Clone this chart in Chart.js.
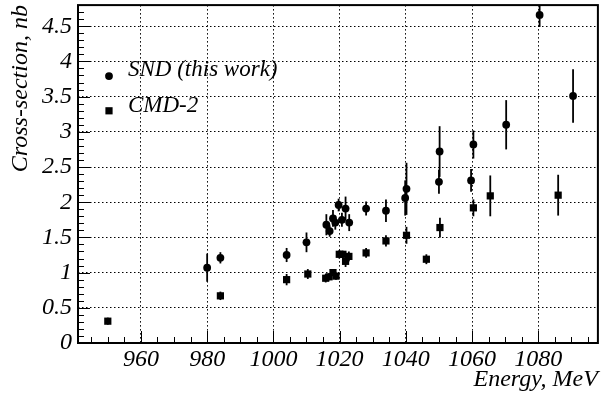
<!DOCTYPE html>
<html>
<head>
<meta charset="utf-8">
<title>Cross-section vs energy</title>
<script src="https://cdn.jsdelivr.net/npm/chart.js@4.4.1/dist/chart.umd.min.js"></script>
<style>
    html, body { margin: 0; padding: 0; background: #fff; }
    .chart-wrap { width: 603px; height: 398px; }
</style>
</head>
<body>
<div class="chart-wrap"><canvas id="xsecChart"></canvas></div>
<script>
// --- DATA ---
const sndEnergy = [980, 984, 1004, 1010, 1016, 1017, 1018, 1018.7, 1019.7, 1020.7, 1021.8, 1022.9,
    1028, 1034, 1039.8, 1040.2, 1050, 1050.2, 1059.7, 1060.4, 1070.3, 1080.4, 1090.5];
const sndSigma = [1.07, 1.21, 1.25, 1.43, 1.68, 1.59, 1.77, 1.71, 1.96, 1.75, 1.91, 1.71,
    1.91, 1.88, 2.06, 2.19, 2.29, 2.72, 2.31, 2.82, 3.10, 4.66, 3.51];
const sndError = [0.2, 0.08, 0.1, 0.14, 0.15, 0.08, 0.12, 0.1, 0.09, 0.1, 0.17, 0.12,
    0.1, 0.16, 0.25, 0.37, 0.17, 0.36, 0.16, 0.2, 0.35, 0.17, 0.38];

const cmdEnergy = [950, 984, 1004, 1010.4, 1015.8, 1016.8, 1018, 1018.9, 1019.9, 1021, 1021.8, 1022.8,
    1028, 1034, 1040.2, 1046.2, 1050.3, 1060.4, 1065.5, 1086];
const cmdSigma = [0.31, 0.67, 0.90, 0.98, 0.92, 0.94, 1.00, 0.95, 1.26, 1.26, 1.16, 1.23,
    1.28, 1.45, 1.53, 1.19, 1.64, 1.92, 2.09, 2.10];
const cmdError = [0.05, 0.06, 0.08, 0.07, 0.06, 0.05, 0.05, 0.05, 0.06, 0.05, 0.08, 0.07,
    0.07, 0.08, 0.12, 0.07, 0.14, 0.12, 0.29, 0.29];

const xTicks = [960, 980, 1000, 1020, 1040, 1060, 1080];
const yTicks = [0, 0.5, 1, 1.5, 2, 2.5, 3, 3.5, 4, 4.5];
const xMinorStep = 5;
const yMinorStep = 0.1;

const FAMILY = '"Liberation Serif", "Times New Roman", serif';
const italic = (size) => ({ family: FAMILY, size, style: 'italic', lineHeight: 1.2 });

const toPoints = (xs, ys) => xs.map((x, i) => ({ x, y: ys[i] }));

// no automatic label padding, the frame is placed by hand
const noPad = (s) => {
    s.paddingTop = 0;
    s.paddingBottom = 0;
    s.paddingLeft = 0;
    s.paddingRight = 0;
};

// --- ERROR BARS ---
const errorBars = {
    id: 'errorBars',
    beforeDatasetsDraw(chart) {
        const { ctx, chartArea: a, scales: { x, y } } = chart;
        ctx.save();
        ctx.beginPath();
        ctx.rect(a.left, a.top, a.right - a.left, a.bottom - a.top);
        ctx.clip();
        ctx.strokeStyle = '#000';
        ctx.lineWidth = 1.8;
        chart.data.datasets.forEach(ds => {
            ds.data.forEach((p, i) => {
                const px = x.getPixelForValue(p.x);
                ctx.beginPath();
                ctx.moveTo(px, y.getPixelForValue(p.y - ds.errors[i]));
                ctx.lineTo(px, y.getPixelForValue(p.y + ds.errors[i]));
                ctx.stroke();
            });
        });
        ctx.restore();
    }
};

// --- FRAME, INNER TICKS, LEGEND ---
const frameAndLegend = {
    id: 'frameAndLegend',
    afterDraw(chart) {
        const { ctx, chartArea: a, scales: { x, y } } = chart;
        ctx.save();
        ctx.strokeStyle = '#000';
        ctx.lineWidth = 1;
        ctx.beginPath();
        for (let v = Math.ceil(x.min / xMinorStep) * xMinorStep; v <= x.max; v += xMinorStep) {
            const px = Math.round(x.getPixelForValue(v)) + 0.5;
            const len = xTicks.includes(v) ? 12 : 6;
            ctx.moveTo(px, a.bottom);
            ctx.lineTo(px, a.bottom - len);
        }
        const nMinor = Math.floor(y.max / yMinorStep + 1e-6);
        for (let k = 0; k <= nMinor; k++) {
            const v = +(k * yMinorStep).toFixed(2);
            const py = Math.round(y.getPixelForValue(v)) + 0.5;
            const len = yTicks.includes(v) ? 12 : 6;
            ctx.moveTo(a.left, py);
            ctx.lineTo(a.left + len, py);
        }
        ctx.stroke();

        ctx.lineWidth = 2;
        ctx.strokeRect(a.left, a.top, a.right - a.left, a.bottom - a.top);

        // legend
        ctx.fillStyle = '#000';
        ctx.font = 'italic 23px ' + FAMILY;
        ctx.textBaseline = 'alphabetic';
        ctx.textAlign = 'left';
        const mx = a.left + 31;
        const tx = a.left + 50;
        const [snd, cmd] = chart.data.datasets;

        ctx.beginPath();
        ctx.arc(mx, a.top + 71, 3.9, 0, Math.PI * 2);
        ctx.fill();
        ctx.fillText(snd.label, tx, a.top + 71);

        ctx.fillRect(mx - 3.6, a.top + 105.7 - 3.6, 7.2, 7.2);
        ctx.fillText(cmd.label, tx, a.top + 107);
        ctx.restore();
    }
};

// --- CHART ---
const ctx = document.getElementById('xsecChart');
new Chart(ctx, {
    type: 'scatter',
    data: {
        datasets: [{
            label: 'SND (this work)',
            data: toPoints(sndEnergy, sndSigma),
            errors: sndError,
            pointStyle: 'circle',
            pointRadius: 3.9,
            pointBorderWidth: 0,
            backgroundColor: '#000',
            borderColor: '#000'
        }, {
            label: 'CMD-2',
            data: toPoints(cmdEnergy, cmdSigma),
            errors: cmdError,
            pointStyle: 'rect',
            pointRadius: 5.1,
            pointBorderWidth: 0,
            backgroundColor: '#000',
            borderColor: '#000'
        }]
    },
    options: {
        responsive: true,
        maintainAspectRatio: false,
        animation: false,
        devicePixelRatio: 1,
        layout: { padding: { top: 3, right: 5, left: 0, bottom: 0 } },
        plugins: {
            legend: { display: false },
            tooltip: { enabled: false }
        },
        scales: {
            x: {
                type: 'linear',
                min: 941,
                max: 1098,
                afterFit: (s) => { s.height = 55; noPad(s); },
                afterBuildTicks: (s) => { s.ticks = xTicks.map(value => ({ value })); },
                grid: { color: '#000', lineWidth: 1, drawTicks: false },
                border: { display: false, dash: [1.5, 2.5] },
                ticks: {
                    color: '#000',
                    font: italic(24),
                    padding: 2,
                    maxRotation: 0,
                    autoSkip: false,
                    callback: (v) => String(v)
                },
                title: {
                    display: true,
                    text: 'Energy, MeV',
                    align: 'end',
                    color: '#000',
                    font: italic(24),
                    padding: { top: 0, bottom: 4 }
                }
            },
            y: {
                type: 'linear',
                min: 0,
                max: 4.8,
                afterFit: (s) => { s.width = 78; noPad(s); },
                afterBuildTicks: (s) => { s.ticks = yTicks.map(value => ({ value })); },
                grid: { color: '#000', lineWidth: 1, drawTicks: false },
                border: { display: false, dash: [1.5, 2.5] },
                ticks: {
                    color: '#000',
                    font: italic(24),
                    padding: 6,
                    autoSkip: false,
                    callback: (v) => String(v)
                },
                title: {
                    display: true,
                    text: 'Cross-section, nb',
                    align: 'end',
                    color: '#000',
                    font: italic(24),
                    padding: { top: 6, bottom: 0 }
                }
            }
        }
    },
    plugins: [errorBars, frameAndLegend]
});
</script>
</body>
</html>
